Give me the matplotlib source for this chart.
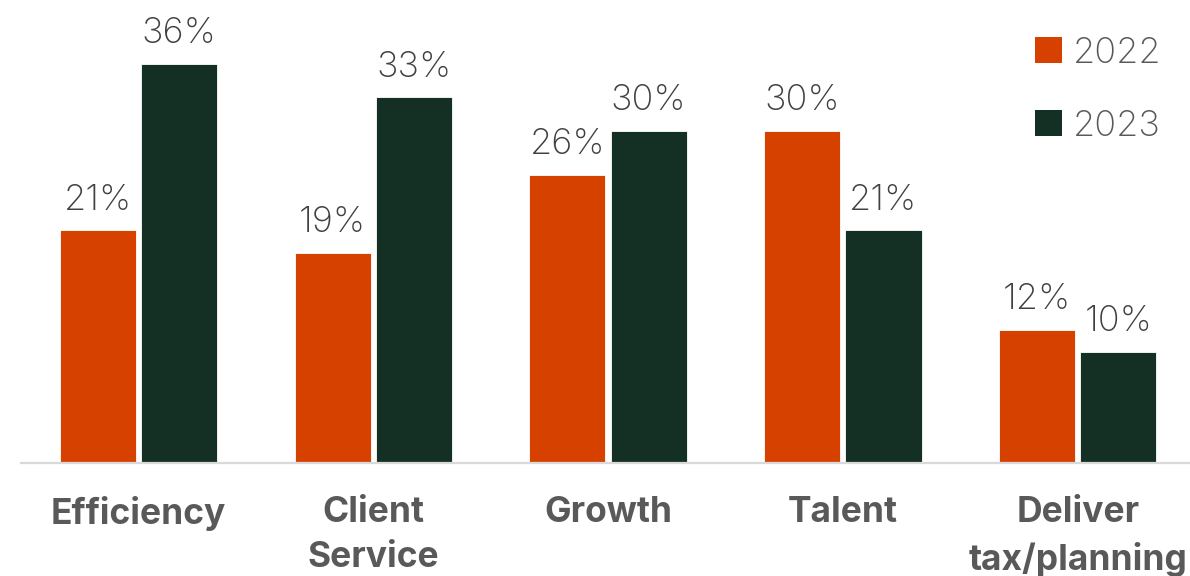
import matplotlib.pyplot as plt
import numpy as np
from matplotlib.patches import Patch

# Share of respondents by priority, two survey years
categories = ['Efficiency', 'Client\nService', 'Growth', 'Talent', 'Deliver\ntax/planning']
values_2022 = [21, 19, 26, 30, 12]
values_2023 = [36, 33, 30, 21, 10]
years = ['2022', '2023']

orange = '#D74100'
dark_green = '#142F23'
text_grey = '#595959'
value_grey = '#404040'

plt.rcParams['font.family'] = ['Inter', 'DejaVu Sans']

fig = plt.figure(figsize=(11.9, 5.76), dpi=100)
ax = fig.add_axes([21 / 1190, 113 / 576, 1169 / 1190, 463 / 576])

x = np.arange(len(categories))
offset = 0.173
width = 0.324

bars1 = ax.bar(x - offset, values_2022, width, color=orange, edgecolor='white', linewidth=0.6)
bars2 = ax.bar(x + offset, values_2023, width, color=dark_green, edgecolor='white', linewidth=0.6)

# Percentage labels above each bar
for bars, vals in [(bars1, values_2022), (bars2, values_2023)]:
    for b, v in zip(bars, vals):
        ax.annotate(f'{v}%', (b.get_x() + b.get_width() / 2, v),
                    xytext=(0, 10), textcoords='offset points',
                    ha='center', va='bottom', fontsize=26, fontweight='light',
                    color=value_grey)

ax.set_xlim(-0.5, (1190 - 138.5) / 234.8)
ax.set_ylim(0, 41.8)

ax.set_xticks(x)
ax.set_xticklabels(categories, fontsize=25.5, fontweight='bold', color=text_grey, linespacing=1.45)
ax.tick_params(axis='x', length=0, pad=24)
ax.set_yticks([])

for side in ['top', 'right', 'left']:
    ax.spines[side].set_visible(False)
ax.spines['bottom'].set_color('#D9D9D9')
ax.spines['bottom'].set_linewidth(1.6)

handles = [Patch(facecolor=orange), Patch(facecolor=dark_green)]
leg = ax.legend(handles, years, loc='upper right', bbox_to_anchor=(0.997, 0.975),
                frameon=False, prop={'weight': 'light', 'size': 26},
                handlelength=0.75, handleheight=0.75,
                handletextpad=0.3, labelspacing=1.1, borderaxespad=0.3)
for t in leg.get_texts():
    t.set_color(text_grey)

fig.savefig('out.png', dpi=100)
